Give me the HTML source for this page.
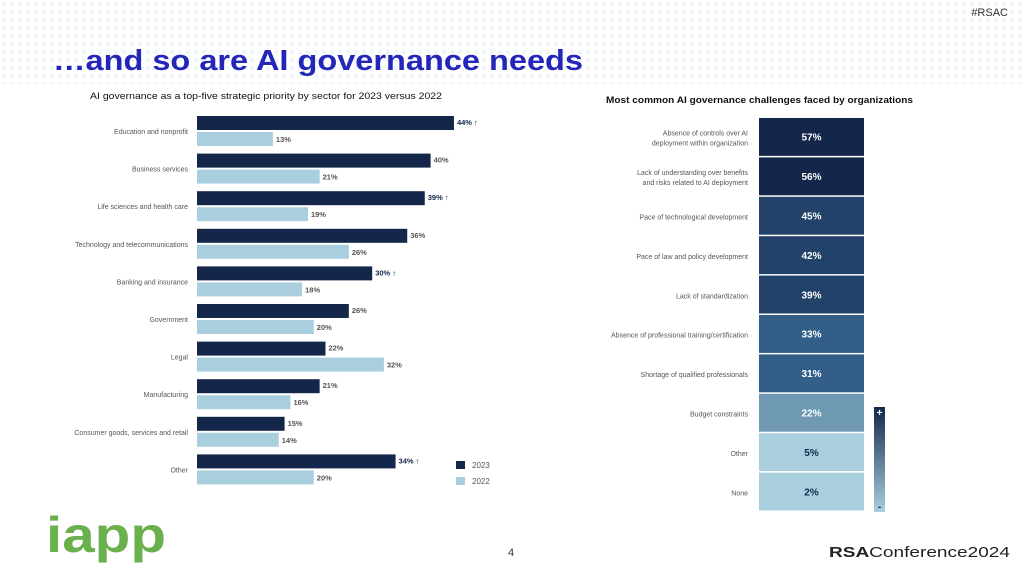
<!DOCTYPE html>
<html><head><meta charset="utf-8"><style>
html,body{margin:0;padding:0;background:#fff;}
body{width:1024px;height:576px;position:relative;overflow:hidden;font-family:"Liberation Sans",sans-serif;}
svg{position:absolute;left:0;top:0;}
</style></head><body>
<svg id="s" width="1024" height="576" viewBox="0 0 1024 576">
<defs>
<pattern id="dots" width="8" height="8" patternUnits="userSpaceOnUse"><circle cx="4" cy="4" r="2.2" fill="#eef6fb"/></pattern>
<linearGradient id="lg" x1="0" y1="0" x2="0" y2="1"><stop offset="0" stop-color="#14274a"/><stop offset="1" stop-color="#a9cfdf"/></linearGradient>
</defs>
<rect x="0" y="0" width="1024" height="84" fill="url(#dots)"/>
<rect x="560" y="84" width="400" height="16" fill="#fff"/>
<text x="1008" y="16" font-size="11" text-anchor="end" fill="#333" font-family="Liberation Sans">#RSAC</text>
<text x="53" y="70" font-size="29" font-weight="bold" fill="#2326b8" textLength="530" lengthAdjust="spacingAndGlyphs">…and so are AI governance needs</text>
<text x="90" y="99" font-size="9.5" fill="#111" textLength="352" lengthAdjust="spacingAndGlyphs">AI governance as a top-five strategic priority by sector for 2023 versus 2022</text>
<text x="606" y="103" font-size="9.5" font-weight="bold" fill="#111" textLength="307" lengthAdjust="spacingAndGlyphs">Most common AI governance challenges faced by organizations</text>
<g id="left"></g>
<g id="right"></g>
<rect x="456" y="461" width="9" height="8" fill="#14274a"/>
<text x="472" y="468" font-size="8" fill="#555">2023</text>
<rect x="456" y="477" width="9" height="8" fill="#a9cfdf"/>
<text x="472" y="484" font-size="8" fill="#555">2022</text>
<rect x="874" y="407" width="11" height="105" fill="url(#lg)"/>
<text x="879.5" y="416" font-size="10" font-weight="bold" fill="#fff" text-anchor="middle">+</text>
<text x="879.5" y="510" font-size="10" font-weight="bold" fill="#14274a" text-anchor="middle">-</text>
<g>
<text x="46" y="552" font-size="50" font-weight="bold" fill="#6ab04c" textLength="120" lengthAdjust="spacingAndGlyphs">iapp</text>
</g>
<text x="508" y="556" font-size="11" fill="#333">4</text>
<text x="829" y="557" font-size="15" fill="#222" textLength="181" lengthAdjust="spacingAndGlyphs"><tspan font-weight="bold">RSA</tspan>Conference2024</text>
</svg>
<script>
const sectors=["Education and nonprofit","Business services","Life sciences and health care","Technology and telecommunications","Banking and insurance","Government","Legal","Manufacturing","Consumer goods, services and retail","Other"];
const v2023=[44,40,39,36,30,26,22,21,15,34];
const v2022=[13,21,19,26,18,20,32,16,14,20];
const arrow=[true,false,true,false,true,false,false,false,false,true];
const challenges=[["Absence of controls over AI","deployment within organization"],["Lack of understanding over benefits","and risks related to AI deployment"],["Pace of technological development"],["Pace of law and policy development"],["Lack of standardization"],["Absence of professional training/certification"],["Shortage of qualified professionals"],["Budget constraints"],["Other"],["None"]];
const challengeVals=[57,56,45,42,39,33,31,22,5,2];
const NS="http://www.w3.org/2000/svg";
function mk(tag,attrs,parent,txt){const e=document.createElementNS(NS,tag);for(const k in attrs)e.setAttribute(k,attrs[k]);if(txt!=null)e.textContent=txt;parent.appendChild(e);return e;}
const L=document.getElementById('left');
const x0=197,k=5.84,y0=116,pitch=37.6,bh=14;
const xs=v=>x0+v*k;
sectors.forEach((s,i)=>{
 const y=y0+i*pitch;
 let t=mk('text',{x:188,y:y+18,'font-size':7,fill:'#555','text-anchor':'end'},L,s);
 
 
 let b=mk('rect',{x:x0,y:y,width:xs(v2023[i])-x0,height:bh,fill:'#14274a'},L);
 
 
 let l=mk('text',{x:xs(v2023[i])+3,y:y+9,'font-size':7.5,'font-weight':'bold',fill:arrow[i]?'#14274a':'#555'},L,v2023[i]+'%'+(arrow[i]?' ↑':''));
 
 
 let b2=mk('rect',{x:x0,y:y+16,width:xs(v2022[i])-x0,height:bh,fill:'#a9cfdf'},L);
 
 
 let l2=mk('text',{x:xs(v2022[i])+3,y:y+26,'font-size':7.5,'font-weight':'bold',fill:'#555'},L,v2022[i]+'%');
 
 
});
const R=document.getElementById('right');
const cx=759,cw=105,cy0=118,ch=39.4;
function col(v){if(v>=50)return'#14274a';if(v>=35)return'#22426a';if(v>=25)return'#335e87';if(v>=15)return'#6f98b2';return'#a9cfdf';}
challenges.forEach((c,i)=>{
 const y=cy0+i*ch;
 let r=mk('rect',{x:cx,y:y,width:cw,height:ch-1.5,fill:col(challengeVals[i])},R);
 
 
 let v=mk('text',{x:cx+cw/2,y:y+ch/2+3,'font-size':10,'font-weight':'bold','text-anchor':'middle',fill:challengeVals[i]>=15?'#fff':'#14274a'},R,challengeVals[i]+'%');
 
 
 c.forEach((line,j)=>{
  let t=mk('text',{x:748,y:y+ch/2+3+(j-(c.length-1)/2)*10,'font-size':7,fill:'#555','text-anchor':'end'},R,line);
  
  
 });
});
</script>
</body></html>
